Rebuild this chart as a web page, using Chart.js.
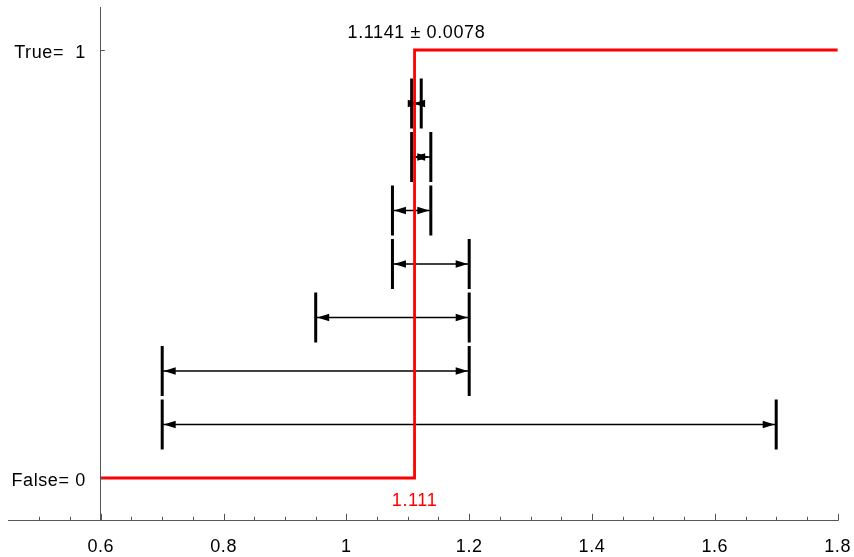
<!DOCTYPE html>
<html>
<head>
<meta charset="utf-8">
<script src="https://cdn.jsdelivr.net/npm/chart.js@4/dist/chart.umd.min.js"></script>
<style>
  html, body { margin: 0; padding: 0; background: #ffffff; }
  #wrap { width: 854px; height: 557px; position: relative; }
</style>
</head>
<body>
<div id="wrap"><canvas id="c"></canvas></div>
<script>
// Bisection search for the threshold: one bracketing interval per iteration
const iterationLevels = [0.125, 0.25, 0.375, 0.5, 0.625, 0.75, 0.875];
const intervalLows    = [0.7, 0.7, 0.95, 1.075, 1.075, 1.10625, 1.10625];
const intervalHighs   = [1.7, 1.2, 1.2, 1.2, 1.1375, 1.1375, 1.121875];

// The true step of the predicate
const thresholdX = 1.111;
const stepXs = [0.6, thresholdX, thresholdX, 1.8];
const stepYs = [0, 0, 1, 1];

// Axis ticks
const xMajorTicks = [0.6, 0.8, 1, 1.2, 1.4, 1.6, 1.8];
const xMinorTicks = [0.5, 0.55, 0.6, 0.65, 0.7, 0.75, 0.8, 0.85, 0.9, 0.95, 1, 1.05, 1.1,
                     1.15, 1.2, 1.25, 1.3, 1.35, 1.4, 1.45, 1.5, 1.55, 1.6, 1.65, 1.7, 1.75, 1.8];
const yTickValues = [0, 1];
const yTickLabels = ['False= 0', 'True=  1'];

const FONT_FAMILY = '"Liberation Sans", Arial, Helvetica, sans-serif';
const FONT_SIZE = 18;
const LETTER_SPACING = '0.6px';
const AXIS_COLOR = '#555555';

// Final estimate from the last bracket
const lastLo = intervalLows[intervalLows.length - 1];
const lastHi = intervalHighs[intervalHighs.length - 1];
const estimate = (lastLo + lastHi) / 2;
const halfWidth = (lastHi - lastLo) / 2;

const datasets = [];

// step function, drawn on top of the intervals
datasets.push({
  type: 'line',
  label: 'step',
  data: stepXs.map((x, i) => ({ x: x, y: stepYs[i] })),
  borderColor: '#ff0000',
  borderWidth: 2.8,
  pointRadius: 0,
  fill: false,
  tension: 0,
  order: 0,
  clip: false
});

// bracketing intervals: shaft with end bars
iterationLevels.forEach((lv, i) => {
  datasets.push({
    type: 'line',
    label: 'iter' + (i + 1),
    isInterval: true,
    data: [{ x: intervalLows[i], y: lv }, { x: intervalHighs[i], y: lv }],
    borderColor: '#000000',
    borderWidth: 1.5,
    pointStyle: 'line',
    pointRotation: 90,
    pointRadius: 25,
    pointBorderWidth: 3,
    pointBorderColor: '#000000',
    pointHoverRadius: 25,
    fill: false,
    order: 1,
    clip: false
  });
});

// arrowheads at both ends of each interval
const arrowPlugin = {
  id: 'arrowheads',
  afterDatasetDraw(chart, args) {
    const ds = chart.data.datasets[args.index];
    if (!ds.isInterval) return;
    const pts = args.meta.data;
    if (pts.length < 2) return;
    const ctx = chart.ctx;
    const a = pts[0], b = pts[1];
    const len = 12, half = 3.8, gap = 1.5;
    ctx.save();
    ctx.fillStyle = '#000000';
    ctx.beginPath();
    ctx.moveTo(a.x + gap, a.y);
    ctx.lineTo(a.x + gap + len, a.y - half);
    ctx.lineTo(a.x + gap + len, a.y + half);
    ctx.closePath();
    ctx.fill();
    ctx.beginPath();
    ctx.moveTo(b.x - gap, b.y);
    ctx.lineTo(b.x - gap - len, b.y - half);
    ctx.lineTo(b.x - gap - len, b.y + half);
    ctx.closePath();
    ctx.fill();
    ctx.restore();
  }
};

// inward tick marks, y labels and annotation texts
const decorPlugin = {
  id: 'decor',
  beforeDraw(chart) {
    chart.ctx.letterSpacing = LETTER_SPACING;
  },
  afterDraw(chart) {
    const ctx = chart.ctx;
    const xs = chart.scales.x, ys = chart.scales.y;
    const axisY = xs.top;
    const axisX = xs.getPixelForValue(0.6);
    ctx.save();
    ctx.strokeStyle = AXIS_COLOR;
    ctx.lineWidth = 1;
    ctx.beginPath();
    xMinorTicks.forEach(v => {
      const px = Math.round(xs.getPixelForValue(v)) + 0.5;
      const isMajor = xMajorTicks.some(m => Math.abs(m - v) < 1e-9);
      const l = isMajor ? 7 : 4;
      ctx.moveTo(px, axisY);
      ctx.lineTo(px, axisY - l);
    });
    yTickValues.forEach(v => {
      const py = Math.round(ys.getPixelForValue(v)) + 0.5;
      ctx.moveTo(axisX, py);
      ctx.lineTo(axisX + 4, py);
    });
    ctx.stroke();

    ctx.letterSpacing = LETTER_SPACING;
    ctx.font = FONT_SIZE + 'px ' + FONT_FAMILY;
    ctx.textBaseline = 'alphabetic';
    ctx.fillStyle = '#000000';
    // y tick labels
    ctx.textAlign = 'right';
    yTickValues.forEach((v, i) => {
      ctx.fillText(yTickLabels[i], axisX - 15, ys.getPixelForValue(v) + 7.5);
    });
    // estimate ± half width above the top level
    ctx.textAlign = 'center';
    ctx.fillText(estimate.toFixed(4) + ' \u00B1 ' + halfWidth.toFixed(4),
                 xs.getPixelForValue(estimate), ys.getPixelForValue(1) - 12.5);
    // threshold value under the step
    ctx.fillStyle = '#ff0000';
    ctx.fillText(String(thresholdX), xs.getPixelForValue(thresholdX), ys.getPixelForValue(0) + 28);
    ctx.restore();
  }
};

new Chart(document.getElementById('c'), {
  data: { datasets: datasets },
  options: {
    responsive: true,
    maintainAspectRatio: false,
    animation: false,
    events: [],
    layout: { autoPadding: false, padding: { left: 8.7, right: 16.4, top: 7.2, bottom: 0 } },
    plugins: { legend: { display: false }, tooltip: { enabled: false } },
    scales: {
      x: {
        type: 'linear',
        position: 'bottom',
        min: 0.45,
        max: 1.8,
        afterBuildTicks(scale) {
          scale.ticks = xMinorTicks.map(v => ({ value: v }));
        },
        afterFit(scale) {
          scale.height = 36.2;
          scale.paddingLeft = 0;
          scale.paddingRight = 0;
        },
        grid: { display: false, drawTicks: false },
        border: { display: true, color: AXIS_COLOR, width: 1 },
        ticks: {
          autoSkip: false,
          maxRotation: 0,
          padding: 15,
          color: '#000000',
          font: { family: FONT_FAMILY, size: FONT_SIZE },
          callback(value) {
            return xMajorTicks.some(m => Math.abs(m - value) < 1e-9) ? String(value) : '';
          }
        }
      },
      y: {
        type: 'linear',
        position: { x: 0.6 },
        min: -0.1,
        max: 1.1,
        afterBuildTicks(scale) {
          scale.ticks = yTickValues.map(v => ({ value: v }));
        },
        afterFit(scale) {
          scale.width = 0;
          scale.paddingTop = 0;
          scale.paddingBottom = 0;
        },
        grid: { display: false, drawTicks: false },
        border: { display: true, color: AXIS_COLOR, width: 1 },
        ticks: { display: false }
      }
    }
  },
  plugins: [arrowPlugin, decorPlugin]
});
</script>
</body>
</html>
